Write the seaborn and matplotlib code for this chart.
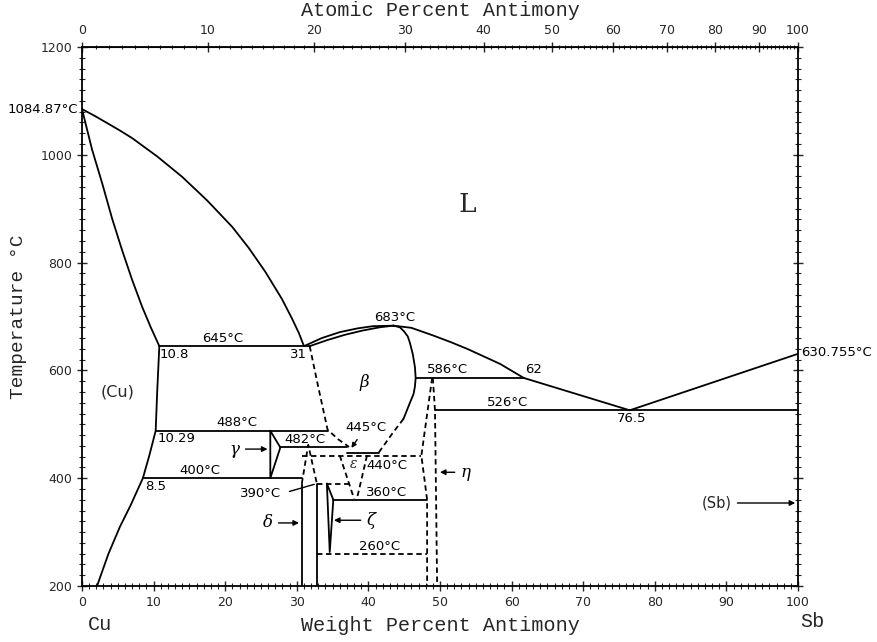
import numpy as np
import matplotlib
matplotlib.use("Agg")
import matplotlib.pyplot as plt
import seaborn as sns
from matplotlib.ticker import MultipleLocator, FixedLocator

# ---- phase boundaries (wt% Sb, degC) ----
cu_liquidus_wt = [0, 1.8, 3.5, 5.3, 7.0, 10.5, 14.0, 17.5, 21.0, 23.3, 25.6, 27.9, 29.3, 30.3, 31]
cu_liquidus_t = [1084.87, 1072, 1059, 1045, 1031, 997, 959, 915, 866, 827, 783, 733, 697, 669, 645]
cu_solidus_wt = [0, 1.4, 2.8, 4.2, 5.6, 7.0, 8.4, 9.6, 10.8]
cu_solidus_t = [1084.87, 1010, 948, 882, 823, 768, 718, 680, 645]
cu_solvus_wt = [10.8, 10.5, 10.29, 9.4, 8.5, 6.8, 5.3, 3.7, 2.1]
cu_solvus_t = [645, 560, 488, 442, 400, 350, 310, 260, 200]

beta_liquidus_wt = [31, 33.5, 36, 38.5, 40.6, 43.5]
beta_liquidus_t = [645, 660, 671, 678, 682, 683]
beta_solidus_wt = [31.8, 34.2, 36.7, 39.2, 41.6, 43.5]
beta_solidus_t = [645, 656, 666, 674, 680, 683]
liquidus_right_wt = [43.5, 46, 49, 51.4, 53.8, 58.4, 61.7]
liquidus_right_t = [683, 679, 665, 653, 640, 612, 586]
liquidus_eut_wt = [61.7, 76.5]
liquidus_eut_t = [586, 526]
sb_liquidus_wt = [76.5, 100]
sb_liquidus_t = [526, 630.755]

beta_right_wt = [43.5, 44.4, 45.0, 45.5, 45.8, 46.2, 46.5, 46.6, 46.5, 46.3, 45.8, 44.9]
beta_right_t = [683, 680, 672, 663, 651, 630, 606, 586, 570, 556, 540, 510]
beta_right_dash_wt = [44.9, 43.4, 41.2]
beta_right_dash_t = [510, 484, 443]
beta_left_dash_wt = [31.8, 33.0, 34.3, 35.8, 37.3]
beta_left_dash_t = [645, 569, 490, 472, 458]

gamma_wt = [26.3, 27.7, 26.3, 26.3]
gamma_t = [488, 457, 400, 488]
delta_dash_wt = [30.7, 31.6, 32.8]
delta_dash_t = [390, 462, 390]
delta_left_wt = [30.7, 30.7]
delta_right_wt = [32.8, 32.8]
delta_t = [390, 200]
eps_left_wt = [36.0, 38.0]
eps_right_wt = [39.8, 38.4]
eps_t = [442, 362]
zeta_wt = [34.2, 35.1, 34.6, 34.2, 34.2]
zeta_t = [390, 360, 263, 390, 390]
eta_left_wt = [48.9, 47.4, 48.2, 48.2]
eta_left_t = [586, 442, 360, 200]
eta_right_wt = [49.0, 49.3, 49.6]
eta_right_t = [586, 526, 200]

# invariant lines: (temperature, wt start, wt end)
iso_645 = (645, 10.8, 31.8)
iso_586 = (586, 46.6, 61.7)
iso_526 = (526, 49.3, 100)
iso_488 = (488, 10.29, 34.4)
iso_482 = (457, 27.7, 37.0)
iso_445 = (447, 37.0, 41.5)
iso_400 = (400, 8.5, 30.7)
iso_360 = (360, 35.1, 48.2)
iso_440 = (442, 30.7, 47.4)
iso_390 = (390, 32.8, 37.5)
iso_260 = (260, 32.8, 48.2)

MW_CU, MW_SB = 63.546, 121.76


def wt2at(w):
    w = np.asarray(w, float)
    a = w / MW_SB
    c = (100 - w) / MW_CU
    with np.errstate(divide="ignore", invalid="ignore"):
        return 100 * a / (a + c)


def at2wt(a):
    a = np.asarray(a, float)
    m = a * MW_SB
    n = (100 - a) * MW_CU
    with np.errstate(divide="ignore", invalid="ignore"):
        return 100 * m / (m + n)


sns.set_style("ticks")
plt.rcParams["font.family"] = ["DejaVu Sans"]

fig = plt.figure(figsize=(8.77, 6.42), dpi=100)
ax = fig.add_axes([82 / 877, 1 - 586 / 642, 716 / 877, 539 / 642])


def draw(wt, t, dashed=False):
    sns.lineplot(x=wt, y=t, ax=ax, color="black", linewidth=1.3, sort=False,
                 estimator=None, linestyle=(0, (3, 2)) if dashed else "-")


solid = [
    (cu_liquidus_wt, cu_liquidus_t), (cu_solidus_wt, cu_solidus_t),
    (cu_solvus_wt, cu_solvus_t), (beta_liquidus_wt, beta_liquidus_t),
    (beta_solidus_wt, beta_solidus_t), (liquidus_right_wt, liquidus_right_t),
    (liquidus_eut_wt, liquidus_eut_t), (sb_liquidus_wt, sb_liquidus_t),
    (beta_right_wt, beta_right_t), (gamma_wt, gamma_t),
    (delta_left_wt, delta_t), (delta_right_wt, delta_t), (zeta_wt, zeta_t),
]
dashed = [
    (beta_right_dash_wt, beta_right_dash_t), (beta_left_dash_wt, beta_left_dash_t),
    (delta_dash_wt, delta_dash_t), (eps_left_wt, eps_t), (eps_right_wt, eps_t),
    (eta_left_wt, eta_left_t), (eta_right_wt, eta_right_t),
]
for wt, t in solid:
    draw(wt, t)
for wt, t in dashed:
    draw(wt, t, dashed=True)
for t, w0, w1 in [iso_645, iso_586, iso_526, iso_488, iso_482, iso_445, iso_400, iso_360]:
    draw([w0, w1], [t, t])
for t, w0, w1 in [iso_440, iso_390, iso_260]:
    draw([w0, w1], [t, t], dashed=True)

ax.set_xlim(0, 100)
ax.set_ylim(200, 1200)

# ---- labels ----
small = dict(fontsize=9.5, color="black")
ax.text(-0.6, 1084.87, "1084.87°C", ha="right", va="center", clip_on=False, **small)
ax.text(100.5, 634, "630.755°C", ha="left", va="center", clip_on=False, **small)
ax.text(19.6, 648, "645°C", ha="center", va="bottom", **small)
ax.text(10.9, 642, "10.8", ha="left", va="top", **small)
ax.text(30.2, 642, "31", ha="center", va="top", **small)
ax.text(43.7, 687, "683°C", ha="center", va="bottom", **small)
ax.text(51.1, 589, "586°C", ha="center", va="bottom", **small)
ax.text(63.0, 589, "62", ha="center", va="bottom", **small)
ax.text(59.4, 529, "526°C", ha="center", va="bottom", **small)
ax.text(76.8, 523, "76.5", ha="center", va="top", **small)
ax.text(21.6, 491, "488°C", ha="center", va="bottom", **small)
ax.text(10.5, 485, "10.29", ha="left", va="top", **small)
ax.text(16.5, 403, "400°C", ha="center", va="bottom", **small)
ax.text(8.8, 397, "8.5", ha="left", va="top", **small)
ax.text(31.1, 460, "482°C", ha="center", va="bottom", **small)
ax.text(24.9, 372, "390°C", ha="center", va="center", **small)
ax.text(42.6, 362, "360°C", ha="center", va="bottom", **small)
ax.text(41.6, 262, "260°C", ha="center", va="bottom", **small)
ax.text(42.6, 424, "440°C", ha="center", va="center", **small)

arrow = dict(arrowstyle="-|>", color="black", lw=1.0, mutation_scale=8)
ax.annotate("445°C", xy=(37.4, 452), xytext=(39.6, 494), ha="center", va="center",
            arrowprops=dict(arrowstyle="-|>", color="black", lw=1.0, mutation_scale=7), **small)
ax.annotate("", xy=(32.8, 390), xytext=(28.6, 374),
            arrowprops=dict(arrowstyle="-", color="black", lw=1.0))

greek = dict(fontsize=12, fontstyle="italic", family="DejaVu Serif", color="black")
ax.annotate("γ", xy=(26.3, 454), xytext=(21.3, 454), ha="center", va="center",
            arrowprops=arrow, **greek)
ax.annotate("δ", xy=(30.7, 317), xytext=(25.9, 317), ha="center", va="center",
            arrowprops=arrow, **greek)
ax.annotate("ζ", xy=(34.8, 322), xytext=(40.4, 322), ha="center", va="center",
            arrowprops=arrow, **greek)
ax.annotate("η", xy=(49.6, 411), xytext=(53.6, 411), ha="center", va="center",
            arrowprops=arrow, **greek)
ax.text(37.9, 426, "ε", ha="center", va="center", fontsize=10, fontstyle="italic",
        family="DejaVu Serif")
ax.text(39.5, 577, "β", ha="center", va="center", **greek)
ax.annotate("(Sb)", xy=(100, 354), xytext=(88.6, 354), ha="center", va="center",
            arrowprops=arrow, fontsize=10.5)
ax.text(5.0, 560, "(Cu)", ha="center", va="center", fontsize=11.5)
ax.text(53.8, 907, "L", ha="center", va="center", fontsize=19, family="DejaVu Serif")

# ---- axes ----
mono = dict(family="Liberation Mono", fontsize=14.5)
ax.set_xlabel("Weight Percent Antimony", labelpad=5, **mono)
ax.set_ylabel("Temperature °C", labelpad=10, family="Liberation Mono", fontsize=14)
ax.text(0.025, -0.072, "Cu", transform=ax.transAxes, ha="center", va="center", **mono)
ax.text(1.02, -0.066, "Sb", transform=ax.transAxes, ha="center", va="center", **mono)

ax.xaxis.set_major_locator(MultipleLocator(10))
ax.xaxis.set_minor_locator(MultipleLocator(1))
ax.yaxis.set_major_locator(MultipleLocator(200))
ax.yaxis.set_minor_locator(MultipleLocator(20))
ax.tick_params(which="major", direction="inout", length=7, width=1, labelsize=9,
               right=True, top=False)
ax.tick_params(which="minor", direction="inout", length=4, width=0.8, right=True, top=False)
for lab in ax.get_xticklabels() + ax.get_yticklabels():
    lab.set_family("Liberation Sans Narrow")
for s in ax.spines.values():
    s.set_linewidth(1.3)
    s.set_color("black")

secax = ax.secondary_xaxis("top", functions=(wt2at, at2wt))
secax.xaxis.set_major_locator(FixedLocator(list(range(0, 101, 10))))
secax.xaxis.set_minor_locator(FixedLocator(list(range(0, 101))))
secax.tick_params(which="major", direction="inout", length=7, width=1, labelsize=9)
secax.tick_params(which="minor", direction="inout", length=3, width=0.8)
secax.set_xlabel("Atomic Percent Antimony", labelpad=6, **mono)

fig.savefig("out.png", dpi=100)
